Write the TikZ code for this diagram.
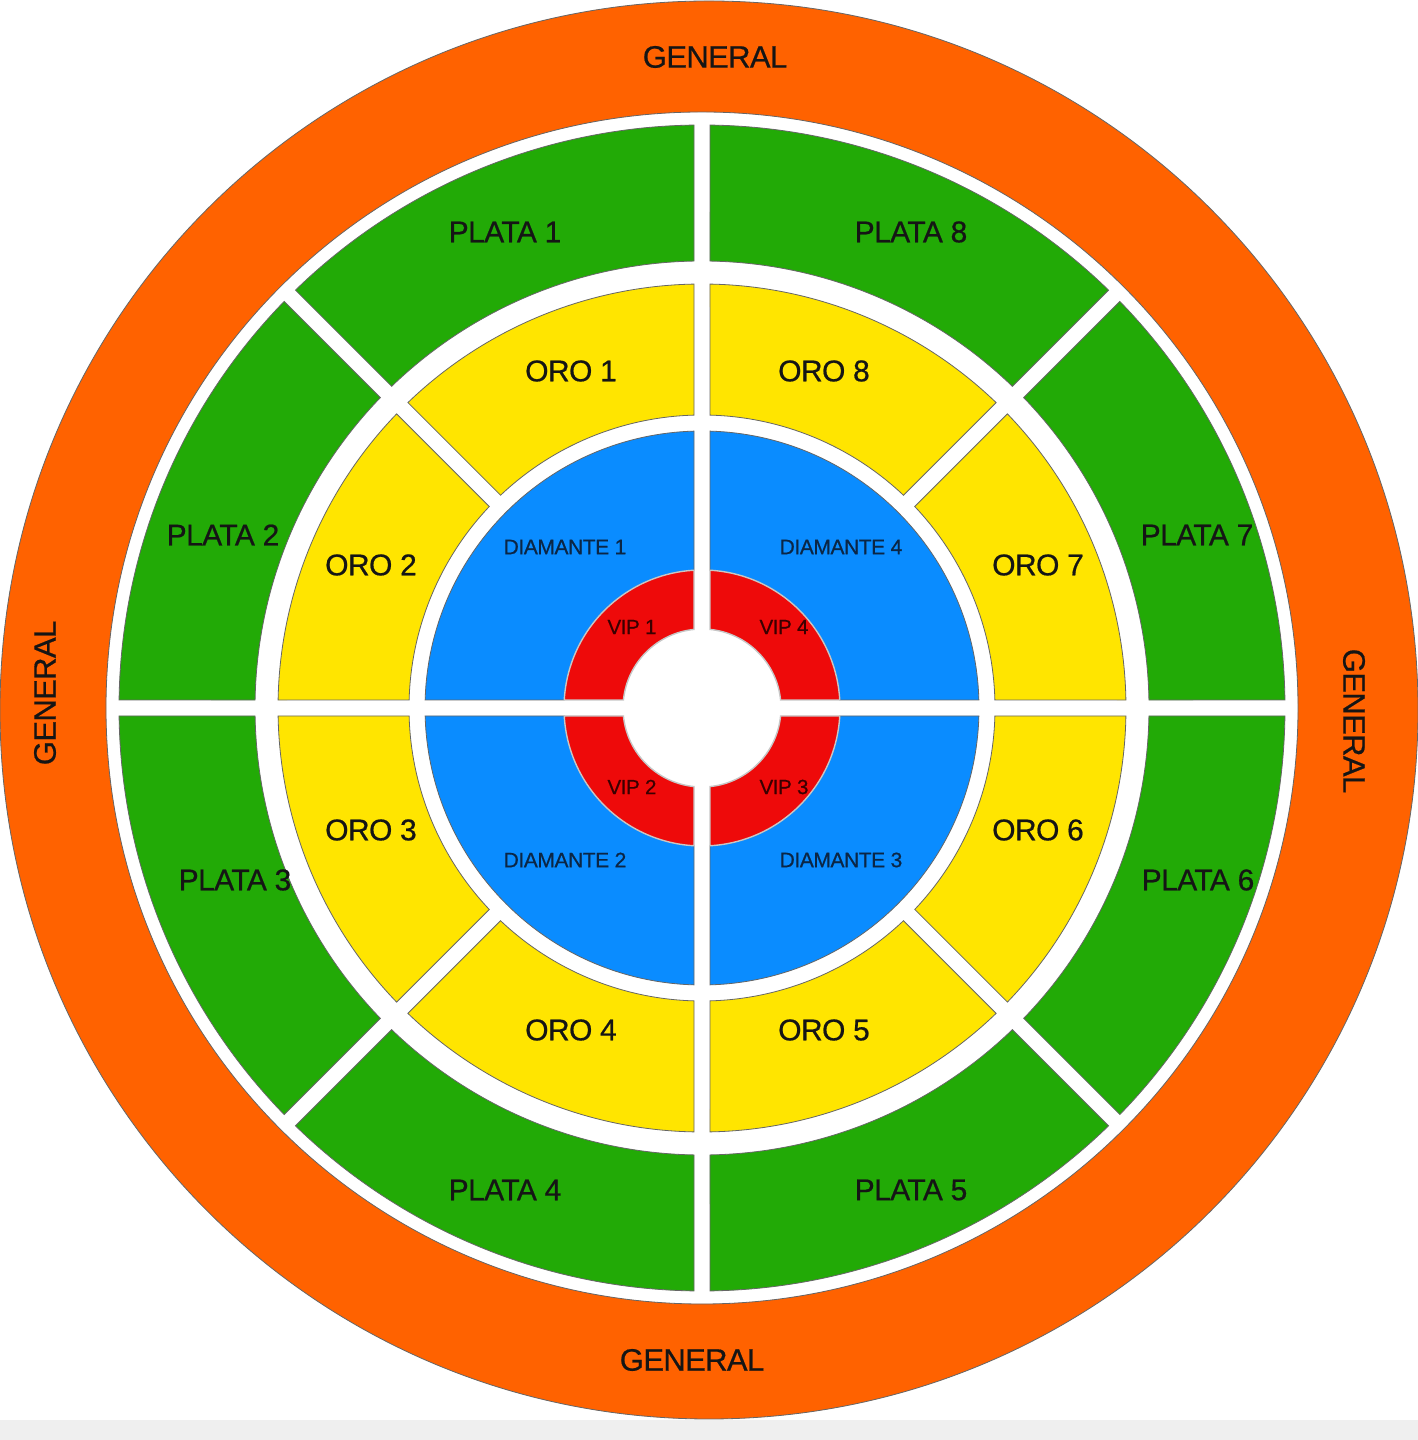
\documentclass[tikz,border=0pt]{standalone}
\usepackage{fontspec}
\setmainfont{Liberation Sans}
\newfontfamily\lblfont[FakeBold=0.6, LetterSpace=-2]{Liberation Sans}
\definecolor{cOrange}{HTML}{FF6200}
\definecolor{cGreen}{HTML}{22AA06}
\definecolor{cYellow}{HTML}{FFE500}
\definecolor{cBlue}{HTML}{0A8CFF}
\definecolor{cRed}{HTML}{EE0A0A}
\definecolor{cBg}{HTML}{EFEFEF}
\definecolor{cTxt}{HTML}{151515}
\definecolor{cDia}{HTML}{0B2645}
\definecolor{cVip}{HTML}{3A0000}
\newcommand\sgap{8}
\newcommand\ringsector[5]{%
  \pgfmathsetmacro\rsdI{asin(\sgap/#3)}%
  \pgfmathsetmacro\rsdO{asin(\sgap/#4)}%
  \pgfmathsetmacro\rsaA{#1+\rsdO}\pgfmathsetmacro\rsaB{#2-\rsdO}%
  \pgfmathsetmacro\rsaC{#2-\rsdI}\pgfmathsetmacro\rsaD{#1+\rsdI}%
  \path[#5] (\rsaA:#4pt) arc[start angle=\rsaA, end angle=\rsaB, radius=#4pt]
    -- (\rsaC:#3pt) arc[start angle=\rsaC, end angle=\rsaD, radius=#3pt] -- cycle;%
}
\tikzset{
  edge/.style={draw=black!60, line width=0.8pt},
  plata/.style={edge, fill=cGreen},
  oro/.style={edge, fill=cYellow},
  diam/.style={edge, fill=cBlue},
  vip/.style={draw=black!22, line width=1.4pt, fill=cRed},
  big/.style={font=\lblfont\fontsize{30}{30}\selectfont, text=cTxt, inner sep=0pt},
  gen/.style={font=\lblfont\fontsize{31}{31}\selectfont, text=cTxt, inner sep=0pt},
  dia/.style={font=\lblfont\fontsize{21}{21}\selectfont, text=cDia, inner sep=0pt},
  viplbl/.style={font=\lblfont\fontsize{20.5}{20.5}\selectfont, text=cVip, inner sep=0pt},
}
\begin{document}
\begin{tikzpicture}[x=1pt,y=1pt]
\useasboundingbox (0,0) rectangle (1418,1440);
\fill[white] (0,0) rectangle (1418,1440);
\fill[cBg] (0,0) rectangle (1418,20);
% general ring
\path[edge, fill=cOrange, even odd rule] (709,730) circle[radius=709pt] (702,732) circle[radius=596pt];
\begin{scope}[shift={(702pt,732pt)}]
\foreach \a in {0,45,...,315} {
  \ringsector{\a}{\a+45}{447}{583}{plata}
  \ringsector{\a}{\a+45}{293}{424}{oro}
}
\foreach \a in {0,90,180,270} {
  \ringsector{\a}{\a+90}{138}{277}{diam}
  \ringsector{\a}{\a+90}{79}{138}{vip}
}
\end{scope}
% labels
\node[gen] (g1) at (715,1383) {GENERAL};
\node[gen] (g2) at (692,80) {GENERAL};
\node[gen, rotate=90] (g3) at (45,747) {GENERAL};
\node[gen, rotate=-90] (g4) at (1354,719) {GENERAL};
\node[big] (p1) at (505,1208) {PLATA 1};
\node[big] (p8) at (911,1208) {PLATA 8};
\node[big] (p2) at (223,905) {PLATA 2};
\node[big] (p7) at (1197,905) {PLATA 7};
\node[big] (p3) at (235,560) {PLATA 3};
\node[big] (p6) at (1198,560) {PLATA 6};
\node[big] (p4) at (505,250) {PLATA 4};
\node[big] (p5) at (911,250) {PLATA 5};
\node[big] (o1) at (571,1069) {ORO 1};
\node[big] (o8) at (824,1069) {ORO 8};
\node[big] (o2) at (371,875) {ORO 2};
\node[big] (o7) at (1038,875) {ORO 7};
\node[big] (o3) at (371,610) {ORO 3};
\node[big] (o6) at (1038,610) {ORO 6};
\node[big] (o4) at (571,410) {ORO 4};
\node[big] (o5) at (824,410) {ORO 5};
\node[dia] (d1) at (565,893) {DIAMANTE 1};
\node[dia] (d4) at (841,893) {DIAMANTE 4};
\node[dia] (d2) at (565,580) {DIAMANTE 2};
\node[dia] (d3) at (841,580) {DIAMANTE 3};
\node[viplbl] (v1) at (632,813) {VIP 1};
\node[viplbl] (v4) at (784,813) {VIP 4};
\node[viplbl] (v2) at (632,653) {VIP 2};
\node[viplbl] (v3) at (784,653) {VIP 3};
\end{tikzpicture}
\end{document}
